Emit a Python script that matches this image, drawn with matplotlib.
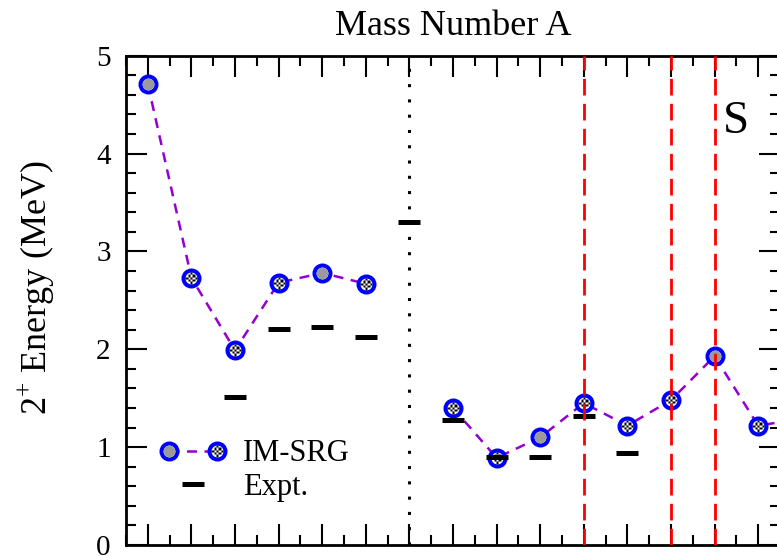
import numpy as np
import matplotlib
matplotlib.use("Agg")
import matplotlib.pyplot as plt
from matplotlib.path import Path
from matplotlib.lines import Line2D
from matplotlib.legend_handler import HandlerLine2D
from matplotlib.ticker import MultipleLocator

# chart data (x = isotope slot along the mass-number axis)
position = np.arange(16)
imsrg_energy = [4.71, 2.73, 1.99, 2.68, 2.78, 2.67, np.nan, 1.40,
                0.89, 1.10, 1.45, 1.22, 1.48, 1.93, 1.22, 1.29]
expt_energy = [np.nan, np.nan, 1.51, 2.21, 2.23, 2.13, 3.30, 1.28,
               0.90, 0.90, 1.32, 0.94, np.nan, np.nan, np.nan, np.nan]
gray_points = [0, 4, 9, 13]        # points drawn with the plain grey fill
red_line_positions = [10, 12, 13]
divider_position = 6

plt.rcParams["font.family"] = "Liberation Serif"
plt.rcParams["mathtext.fontset"] = "custom"
plt.rcParams["mathtext.rm"] = "Liberation Serif"

purple = "#9400D3"
gray_fill = "#9a9a9a"
ring_ms, ring_mew, fill_ms = 11.5, 2.9, 8.4


def checker_path(n=5):
    # small checkerboard inside a circle, used as the marker fill
    verts, codes = [], []
    step = 2.0 / n
    for i in range(n):
        for j in range(n):
            if (i + j) % 2:
                continue
            x0, y0 = -1 + i * step, -1 + j * step
            cx, cy = x0 + step / 2, y0 + step / 2
            if cx * cx + cy * cy > 1.0:
                continue
            verts += [(x0, y0), (x0 + step, y0), (x0 + step, y0 + step),
                      (x0, y0 + step), (x0, y0)]
            codes += [Path.MOVETO, Path.LINETO, Path.LINETO, Path.LINETO,
                      Path.CLOSEPOLY]
    verts += [(-1, 0), (1, 0), (0, -1), (0, 1)]  # keep scale symmetric
    codes += [Path.MOVETO, Path.MOVETO, Path.MOVETO, Path.MOVETO]
    return Path(verts, codes)


checker = checker_path()


class ImsrgHandler(HandlerLine2D):
    def create_artists(self, legend, orig_handle, xdescent, ydescent,
                       width, height, fontsize, trans):
        artists = super().create_artists(legend, orig_handle, xdescent,
                                         ydescent, width, height, fontsize,
                                         trans)
        xs, ys = artists[0].get_xdata(), artists[0].get_ydata()
        gray = Line2D([xs[0]], [ys[0]], ls="none", marker="o", ms=fill_ms,
                      mfc=gray_fill, mec="none")
        check = Line2D([xs[-1]], [ys[-1]], ls="none", marker=checker,
                       ms=fill_ms, mfc="black", mec="none")
        gray.set_transform(trans)
        check.set_transform(trans)
        return artists + [gray, check]


fig = plt.figure(figsize=(7.77, 5.56), dpi=100)
ax = fig.add_axes([126 / 777, 1 - 545 / 556, 654 / 777, 489.3 / 556])

imsrg = np.array(imsrg_energy)
is_gray = np.isin(position, gray_points)

# dashed connecting line, then ringed markers with their fills
ax.plot(position, imsrg, color=purple, lw=1.8, ls=(0, (4, 3)), zorder=3)
ax.plot(position, imsrg, ls="none", marker="o", ms=ring_ms, mfc="white",
        mec="blue", mew=ring_mew, zorder=4)
ax.plot(position[~is_gray], imsrg[~is_gray], ls="none", marker=checker,
        ms=fill_ms, mfc="black", mec="none", zorder=5)
ax.plot(position[is_gray], imsrg[is_gray], ls="none", marker="o",
        ms=fill_ms, mfc=gray_fill, mec="none", zorder=5)

# experimental values as short bars
ax.plot(position, expt_energy, ls="none", marker="_", ms=16, mew=3.6,
        color="black", zorder=6)

# separators
ax.axvline(divider_position, color="black", lw=2.2, ls=(0, (1, 4)),
           zorder=7)
for xv in red_line_positions:
    ax.axvline(xv, color="red", lw=2, ls=(0, (6, 3)), zorder=8)

ax.text(13.48, 4.32, "S", fontsize=34, ha="center", va="center")

ax.set_xlim(-0.5, 14.5)
ax.set_ylim(0, 5)
ax.xaxis.set_major_locator(MultipleLocator(1))
ax.xaxis.set_minor_locator(MultipleLocator(0.5))
ax.yaxis.set_major_locator(MultipleLocator(1))
ax.yaxis.set_minor_locator(MultipleLocator(0.2))
ax.tick_params(which="both", direction="in", top=True, right=True,
               labelbottom=False, width=1.5)
ax.tick_params(which="major", length=15, labelsize=21, pad=11)
ax.tick_params(which="minor", length=7.5)
for sp in ax.spines.values():
    sp.set_linewidth(2)

ax.set_title("Mass Number A", fontsize=26, pad=15)
ax.set_ylabel("2$^{+}$ Energy (MeV)", fontsize=26)
ax.yaxis.set_label_coords(-0.105, 0.526)

# legend
h_imsrg = Line2D([], [], color=purple, lw=1.8, ls=(0, (4, 3)), marker="o",
                 ms=ring_ms, mfc="white", mec="blue", mew=ring_mew)
h_expt = Line2D([], [], ls="none", marker="_", ms=16, mew=3.6, color="black")
ax.legend([h_imsrg, h_expt], ["IM-SRG", "Expt."], numpoints=2,
          handler_map={h_imsrg: ImsrgHandler(numpoints=2),
                       h_expt: HandlerLine2D(numpoints=1)},
          loc="center left", bbox_to_anchor=(0.052, 0.152), frameon=False,
          fontsize=22, handlelength=2.17, handletextpad=0.54,
          labelspacing=0.15, borderpad=0, borderaxespad=0)

fig.savefig("out.png", dpi=100)
